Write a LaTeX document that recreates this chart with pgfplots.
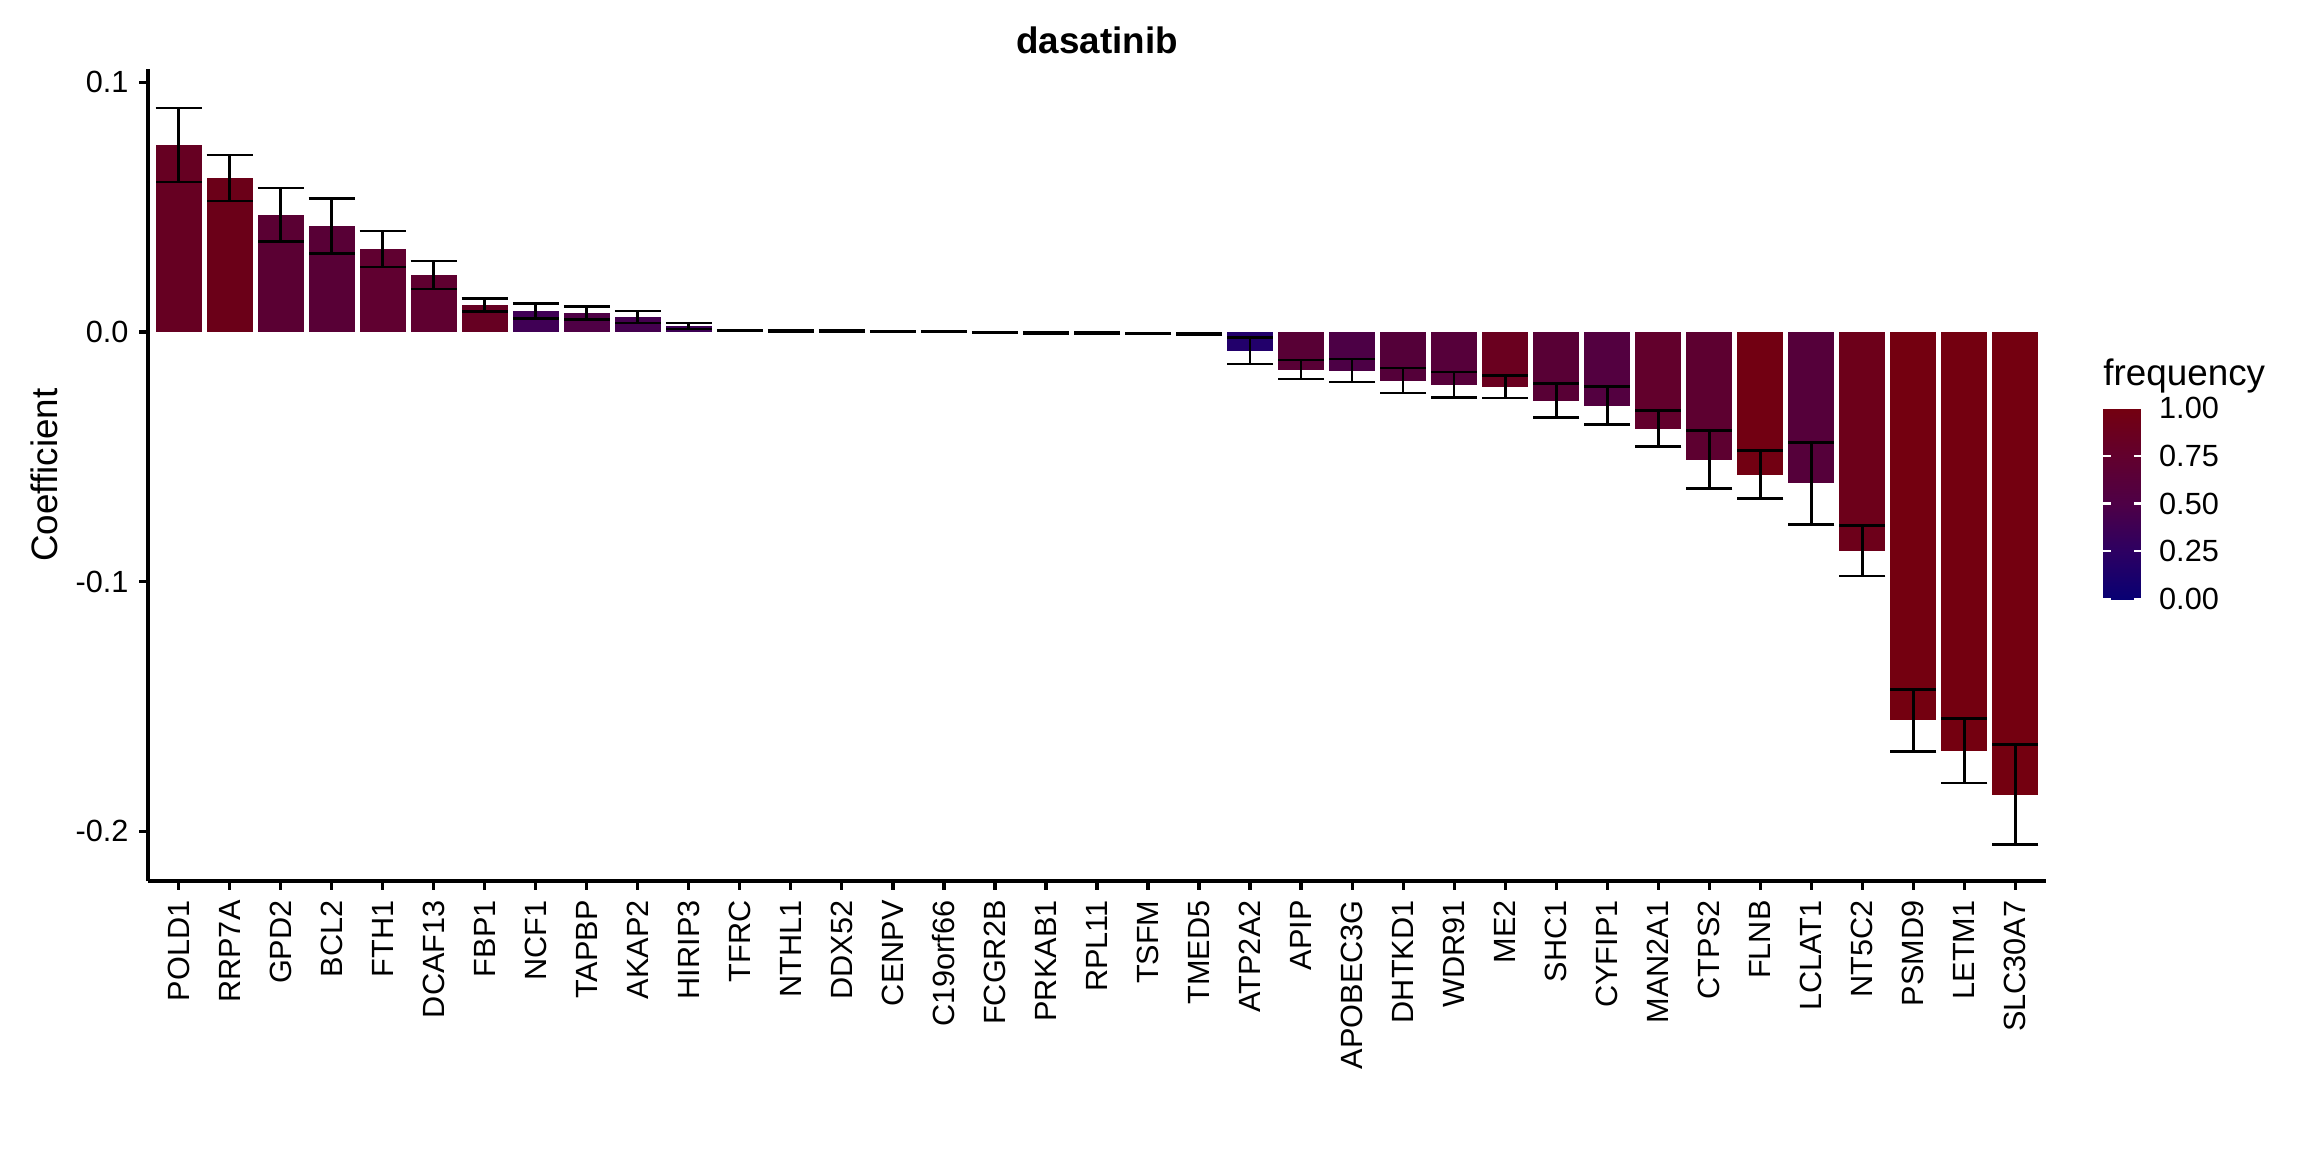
\documentclass[border=0pt]{standalone}
\usepackage{pgfplots}
\pgfplotsset{compat=1.18}
\usepackage{fontspec}
\setmainfont{Liberation Sans}
\newcommand{\fs}[1]{\fontsize{#1}{#1}\selectfont}
\pgfplotsset{
  gbar/.style={ybar, bar width=0.9, bar shift=0pt, draw=none,
    error bars/.cd, y dir=both, y explicit,
    error bar style={line width=1pt, black},
    error mark options={black, line width=1pt, mark size=8.625pt, rotate=90}},
}
% x, y, error, R, G, B
\newcommand{\gb}[6]{\addplot[fill={rgb,255:red,#4;green,#5;blue,#6}, gbar] coordinates {(#1,#2) +- (0,#3)};}
\begin{document}
\begin{tikzpicture}
\path[use as bounding box] (-55.5pt,-101.625pt) rectangle (808.5pt,330.375pt);
\begin{axis}[
  at={(0pt,0pt)}, anchor=south west,
  scale only axis, width=711.75pt, height=304.5pt,
  xmin=-0.6, xmax=36.6, ymin=-0.2199, ymax=0.1053,
  axis lines*=left,
  axis line style={-, line width=1.2pt, black},
  tick align=outside, major tick length=3.2pt,
  tick style={line width=1.2pt, black},
  xtick={0,...,36},
  xticklabels={POLD1,RRP7A,GPD2,BCL2,FTH1,DCAF13,FBP1,NCF1,TAPBP,AKAP2,HIRIP3,TFRC,NTHL1,DDX52,CENPV,C19orf66,FCGR2B,PRKAB1,RPL11,TSFM,TMED5,ATP2A2,APIP,APOBEC3G,DHTKD1,WDR91,ME2,SHC1,CYFIP1,MAN2A1,CTPS2,FLNB,LCLAT1,NT5C2,PSMD9,LETM1,SLC30A7},
  xticklabel style={rotate=90, anchor=east, inner sep=0pt, font=\fs{11.5}},
  xticklabel shift=3.9pt,
  ytick={-0.2,-0.1,0,0.1},
  yticklabels={-0.2,-0.1,0.0,0.1},
  yticklabel style={anchor=east, inner sep=0pt, font=\fs{11.5}},
  yticklabel shift=3.9pt,
  ylabel={Coefficient},
  every axis y label/.style={at={(axis description cs:-0.0479,0.5)}, rotate=90, anchor=base, font=\fs{13.8}},
  title={dasatinib},
  every axis title/.style={at={(axis description cs:0.5,1)}, anchor=base, yshift=5.8pt, font=\bfseries\fs{13.8}},
  colormap={freq}{rgb255=(8,0,115) rgb255=(45,0,98) rgb255=(78,0,70) rgb255=(98,0,45) rgb255=(116,0,16)},
  point meta min=0, point meta max=1,
  colorbar,
  colorbar style={
    at={(724.6pt,105.75pt)}, anchor=south west,
    scale only axis, width=14.25pt, height=71.6pt,
    ytick={0,0.25,0.5,0.75,1},
    yticklabels={0.00,0.25,0.50,0.75,1.00},
    ytick pos=both, yticklabel pos=right,
    yticklabel style={font=\fs{11.5}, anchor=west, inner sep=0pt},
    yticklabel shift=6.6pt,
    tick align=inside, major tick length=2.8pt,
    tick style={white, line width=0.8pt},
    axis line style={draw=none},
  },
]
\gb{0}{0.0749}{0.0148}{102}{0}{34}
\gb{1}{0.0617}{0.0092}{107}{0}{24}
\gb{2}{0.0469}{0.0107}{90}{0}{51}
\gb{3}{0.0425}{0.0110}{88}{0}{54}
\gb{4}{0.0332}{0.0072}{96}{0}{48}
\gb{5}{0.0228}{0.0056}{95}{0}{48}
\gb{6}{0.0108}{0.0025}{102}{0}{34}
\gb{7}{0.0084}{0.0030}{64}{0}{85}
\gb{8}{0.0076}{0.0027}{79}{0}{69}
\gb{9}{0.0060}{0.0024}{68}{0}{79}
\gb{10}{0.0024}{0.0012}{60}{0}{84}
\gb{11}{0.0006}{0.0002}{78}{0}{70}
\gb{12}{0.0005}{0.0002}{78}{0}{70}
\gb{13}{0.0004}{0.0002}{78}{0}{70}
\gb{14}{0.0001}{0.0001}{78}{0}{70}
\gb{15}{0.00005}{0.0001}{78}{0}{70}
\gb{16}{-0.0001}{0.0001}{78}{0}{70}
\gb{17}{-0.0003}{0.0002}{78}{0}{70}
\gb{18}{-0.0005}{0.0002}{78}{0}{70}
\gb{19}{-0.0006}{0.0002}{78}{0}{70}
\gb{20}{-0.0009}{0.0002}{78}{0}{70}
\gb{21}{-0.0075}{0.0053}{34}{0}{107}
\gb{22}{-0.0151}{0.0038}{88}{0}{53}
\gb{23}{-0.0155}{0.0046}{76}{0}{69}
\gb{24}{-0.0195}{0.0050}{84}{0}{57}
\gb{25}{-0.0211}{0.0051}{86}{0}{58}
\gb{26}{-0.0219}{0.0045}{106}{0}{31}
\gb{27}{-0.0275}{0.0069}{88}{0}{53}
\gb{28}{-0.0295}{0.0077}{83}{0}{64}
\gb{29}{-0.0387}{0.0073}{98}{0}{44}
\gb{30}{-0.0511}{0.0116}{93}{0}{48}
\gb{31}{-0.0571}{0.0096}{114}{0}{18}
\gb{32}{-0.0607}{0.0164}{85}{0}{58}
\gb{33}{-0.0876}{0.0102}{109}{0}{26}
\gb{34}{-0.1556}{0.0125}{116}{0}{16}
\gb{35}{-0.1677}{0.0130}{116}{0}{16}
\gb{36}{-0.1853}{0.0200}{116}{0}{16}
\end{axis}
\node[anchor=base west, inner sep=0pt, font=\fs{13.8}] at (733.1pt,186pt) {frequency};
\end{tikzpicture}
\end{document}
